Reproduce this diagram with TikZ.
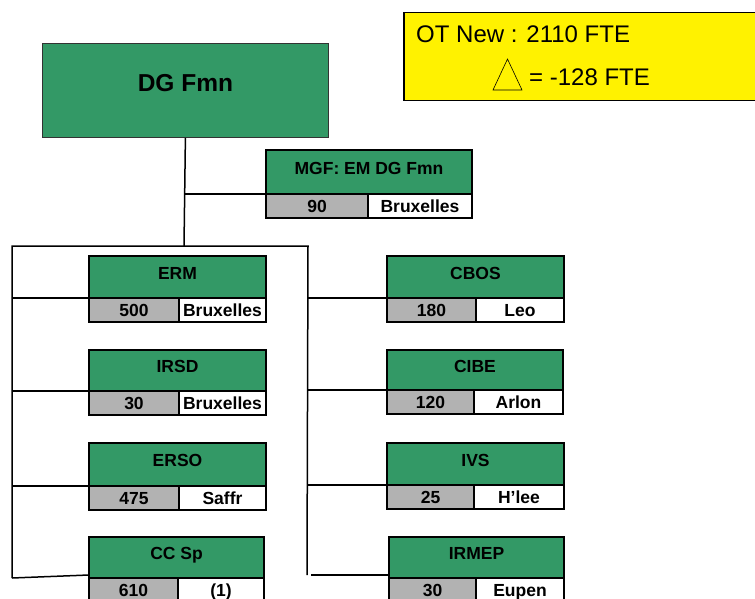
\documentclass[tikz,border=0pt]{standalone}
\usepackage{fontspec}
\setmainfont{Liberation Sans}
\definecolor{dgreen}{HTML}{339966}
\definecolor{lgray}{HTML}{B2B2B2}
\newcommand\unitfont{\fontsize{17.5}{20}\selectfont\bfseries}
\newcommand\orgunit[9]{%
  \node[gbox, minimum width={(#7)-(#3)}, minimum height={(#5)-(#4)}] (#1) at (#3,#4) {#2};
  \node[nbox, minimum width={(#6)-(#3)}] (#1n) at (#3,#5) {#8};
  \node[cbox, minimum width={(#7)-(#6)}] (#1c) at (#6,#5) {#9};
}
\begin{document}
\begin{tikzpicture}[x=1pt,y=-1pt,
  gbox/.style={draw, line width=1.6pt, fill=dgreen, inner sep=0pt, outer sep=0pt,
    anchor=north west, font=\unitfont, text height=12.5pt, text depth=8pt},
  nbox/.style={draw, line width=1.6pt, fill=lgray, inner sep=0pt, outer sep=0pt,
    anchor=north west, minimum height=24, font=\unitfont, text height=12.5pt, text depth=0pt},
  cbox/.style={nbox, fill=white},
  conn/.style={draw, line width=1.5pt},
  ytext/.style={anchor=base west, inner sep=0pt, font=\fontsize{24}{28}\selectfont}]
\useasboundingbox (0,0) rectangle (755,599);
\clip (0,0) rectangle (755,599);
% top box
\node[draw=black!80, line width=0.8pt, fill=dgreen, anchor=north west, inner sep=0pt,
  minimum width=286, minimum height=94, font=\fontsize{24.5}{28}\selectfont\bfseries,
  text height=17.5pt, text depth=16pt] (dg) at (42,43) {DG Fmn};
% legend box
\node[draw, line width=1.5pt, fill=yellow, anchor=north west, inner sep=0pt,
  minimum width=360, minimum height=88] (ot) at (403,12) {};
\node[ytext] (otnew) at (416,43) {OT New : 2110 FTE};
\node[ytext] (delta) at (529,86) {= -128 FTE};
\draw[line width=0.6pt] (493,90) -- (522,90) -- (507.5,59) -- cycle;
% MGF
\orgunit{mgf}{MGF: EM DG Fmn}{266}{150}{194}{368}{472}{90}{Bruxelles}
% left column
\orgunit{erm}{ERM}{89}{256}{298}{179}{266}{500}{Bruxelles}
\orgunit{irsd}{IRSD}{89}{350}{391}{179}{266}{30}{Bruxelles}
\orgunit{erso}{ERSO}{89}{443}{486}{179}{266}{475}{Saffr}
\orgunit{ccsp}{CC Sp}{89}{537}{578}{178}{264}{610}{(1)}
% right column
\orgunit{cbos}{CBOS}{387}{256}{298}{476}{564}{180}{Leo}
\orgunit{cibe}{CIBE}{387}{350}{390}{474}{563}{120}{Arlon}
\orgunit{ivs}{IVS}{387}{443}{485}{474}{564}{25}{H'lee}
\orgunit{irmep}{IRMEP}{389}{537}{578}{476}{564}{30}{Eupen}
% connectors
\coordinate (tl) at (12,246);
\coordinate (tr) at (308,246);
\coordinate (tm) at (184,246);
\coordinate (bl) at (12,578);
\coordinate (br) at (307,575);
\coordinate (mj) at (185,194);
\coordinate (ir) at (311,575);
\draw[conn] (bl) -- (tl) -- (tr) -- (br);
\draw[conn] (dg.south) -- (tm);
\draw[conn] (mj) -- (mgf.south west);
\draw[conn] (tl |- erm.south west) -- (erm.south west);
\draw[conn] (tl |- irsd.south west) -- (irsd.south west);
\draw[conn] (tl |- erso.south west) -- (erso.south west);
\draw[conn] (bl) -- ([yshift=3pt]ccsp.south west);
\draw[conn] (tr |- cbos.south west) -- (cbos.south west);
\draw[conn] (tr |- cibe.south west) -- (cibe.south west);
\draw[conn] (tr |- ivs.south west) -- (ivs.south west);
\draw[conn] (ir) -- (ir -| irmep.west);
\end{tikzpicture}
\end{document}
